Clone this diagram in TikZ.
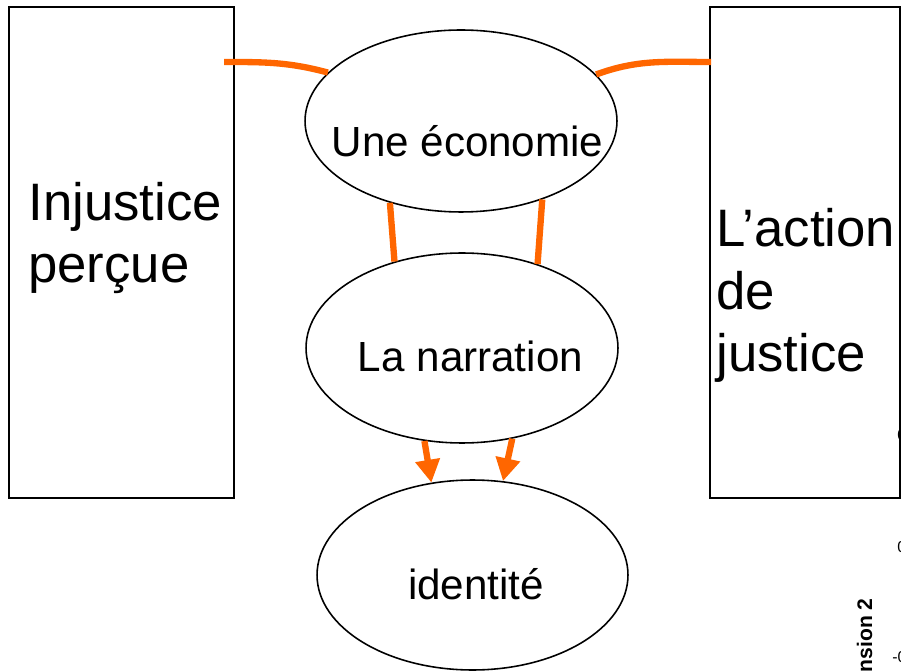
\documentclass[tikz,border=0pt]{standalone}
\usepackage{fontspec}
\setmainfont{Liberation Sans}
\usetikzlibrary{arrows.meta,shapes.geometric}
\definecolor{orangevif}{HTML}{FF6600}
\begin{document}
\begin{tikzpicture}[x=0.02cm,y=0.02cm]
  \tikzstyle{cadre}=[draw,line width=1.1pt,inner sep=0,minimum height=9.82cm]
  \tikzstyle{bulle}=[draw,ellipse,line width=0.9pt,inner sep=0]
  \tikzstyle{grand}=[inner sep=0,align=left,font=\fontsize{30}{35.6}\selectfont]
  \tikzstyle{moyen}=[inner sep=0,font=\fontsize{24}{28}\selectfont]
  \tikzstyle{lien}=[draw=orangevif,line width=3.6pt]
  \tikzstyle{fleche}=[lien,-{Triangle[length=13pt,width=13.5pt]}]
  \tikzstyle{graduation}=[inner sep=0,anchor=base west,font=\fontsize{9}{10}\selectfont]
  \useasboundingbox (0,0) rectangle (901,-671);
  \node[cadre,minimum width=4.5cm] (inj) at (121.5,-252.5) {};
  \node[cadre,minimum width=3.8cm] (act) at (805,-252.5) {};
  \node[grand,anchor=base west] (injt) at (28,-283) {Injustice\\perçue};
  \node[grand,anchor=base west] (actt) at (716,-372) {L’action\\de\\justice};
  \node[bulle,minimum width=6.24cm,minimum height=3.64cm] (eco) at (461,-121) {};
  \node[bulle,minimum width=6.24cm,minimum height=3.8cm] (nar) at (462,-348) {};
  \node[bulle,minimum width=6.22cm,minimum height=3.8cm] (ide) at (472.5,-575) {};
  \node[moyen,anchor=base] (ecot) at (467.5,-157) {Une économie};
  \node[moyen,anchor=base] (nart) at (470.5,-372) {La narration};
  \node[moyen,anchor=base] (idet) at (476,-599) {identité};
  \coordinate (g) at (224,-62);
  \coordinate (d) at (711,-62);
  \draw[lien] (g) to[out=0,in=165] (eco.160);
  \draw[lien] (eco.19) to[out=20,in=180] (d);
  \draw[lien] (eco.229) -- (nar.128);
  \draw[lien] (eco.316) -- (nar.48);
  \draw[fleche] (nar.248) -- (ide.114);
  \draw[fleche] (nar.299) -- (ide.72);
  \node[graduation] (t1) at (897,-440) {0,5};
  \node[graduation] (t2) at (897,-552) {0};
  \node[graduation] (t3) at (892,-662) {-0,5};
  \node[inner sep=0,rotate=90,anchor=base east,font=\fontsize{12}{14}\bfseries\selectfont] (dim) at (872,-598) {Dimension 2};
\end{tikzpicture}
\end{document}
